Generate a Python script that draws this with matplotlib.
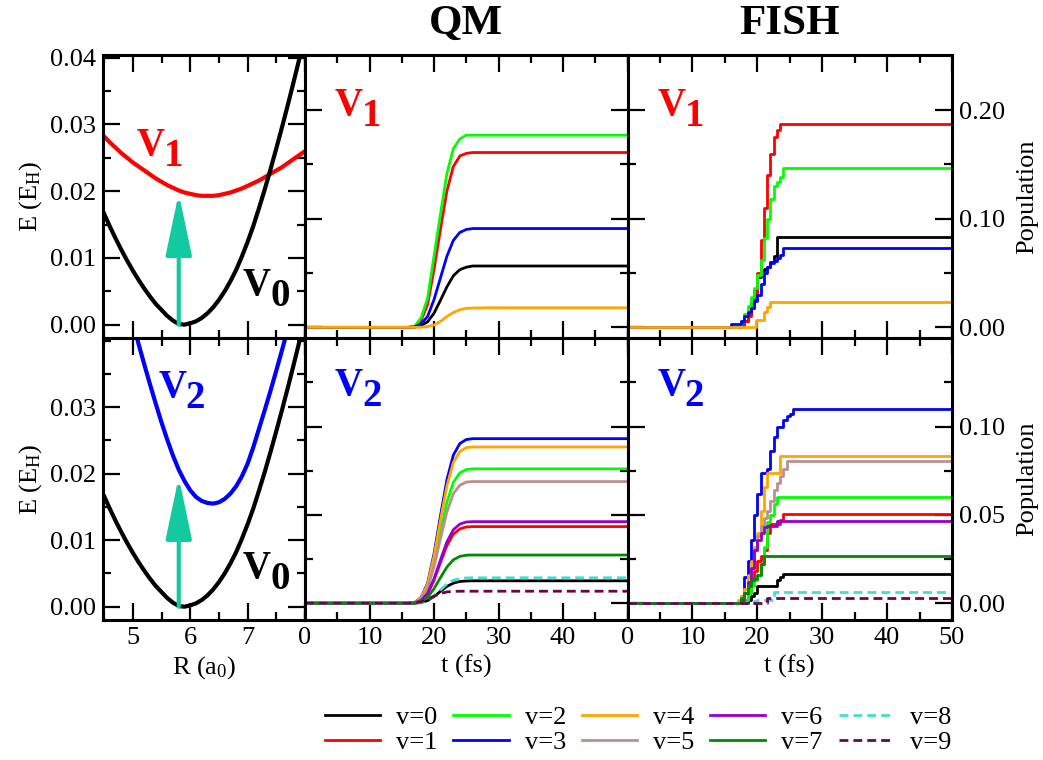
import matplotlib
matplotlib.use('Agg')
import matplotlib.pyplot as plt
from matplotlib.ticker import MultipleLocator, FixedLocator

plt.rcParams['font.family'] = ['Liberation Serif', 'DejaVu Serif']
plt.rcParams['mathtext.default'] = 'regular'

# potential curves (left column)
R = [4.5, 4.6, 4.7, 4.8, 4.9, 5.0, 5.1, 5.2, 5.3, 5.4, 5.5, 5.6, 5.7, 5.8, 5.9, 6.0, 6.1, 6.2,
     6.3, 6.4, 6.5, 6.6, 6.7, 6.8, 6.9, 7.0, 7.1, 7.2, 7.3, 7.4, 7.5, 7.6, 7.7, 7.8, 7.9, 8.0]
V0 = [0.0166, 0.0147, 0.0129, 0.0112, 0.0096, 0.0081, 0.0067, 0.0054, 0.0042, 0.0031, 0.0022, 0.0013,
      0.0006, 0.0001, 0.0000, 0.0002, 0.0005, 0.0010, 0.0017, 0.0026, 0.0037, 0.0050, 0.0065, 0.0082,
      0.0102, 0.0124, 0.0148, 0.0175, 0.0203, 0.0233, 0.0264, 0.0296, 0.0329, 0.0363, 0.0398, 0.0434]
V1 = [0.0282, 0.0273, 0.0265, 0.0257, 0.0250, 0.0243, 0.0237, 0.0231, 0.0225, 0.0219, 0.0214, 0.0209,
      0.0205, 0.0201, 0.0198, 0.0196, 0.0194, 0.0193, 0.0193, 0.0193, 0.0194, 0.0196, 0.0198, 0.0201,
      0.0204, 0.0208, 0.0212, 0.0216, 0.0221, 0.0226, 0.0231, 0.0236, 0.0242, 0.0248, 0.0254, 0.0260]
V2 = [0.0617, 0.0577, 0.0538, 0.0500, 0.0463, 0.0428, 0.0395, 0.0364, 0.0334, 0.0305, 0.0277, 0.0251,
      0.0227, 0.0206, 0.0189, 0.0175, 0.0165, 0.0159, 0.0156, 0.0155, 0.0157, 0.0162, 0.0170, 0.0181,
      0.0196, 0.0215, 0.0240, 0.0268, 0.0296, 0.0325, 0.0355, 0.0386, 0.0418, 0.0450, 0.0482, 0.0515]
R_exc = 5.8
E_exc_top = 0.0197
E_exc_bot = 0.0195

# QM populations
qm_t = [0, 16, 17, 18, 19, 20, 21, 22, 23, 24, 25, 26, 28, 50]
qm_top = {
    0: [0, 0, 0.0002, 0.0017, 0.0051, 0.0130, 0.0249, 0.0373, 0.0475, 0.0531, 0.0554, 0.0565, 0.0565, 0.0565],
    1: [0, 0, 0.0006, 0.0064, 0.0209, 0.0531, 0.0902, 0.1256, 0.1481, 0.1578, 0.1602, 0.161, 0.161, 0.161],
    2: [0, 0, 0.0009, 0.0089, 0.0266, 0.0655, 0.1044, 0.1416, 0.1646, 0.1735, 0.177, 0.177, 0.177, 0.177],
    3: [0, 0, 0.0004, 0.0032, 0.0100, 0.0255, 0.0455, 0.0655, 0.0801, 0.0874, 0.0901, 0.091, 0.091, 0.091],
    4: [0, 0, 0, 0.0002, 0.0007, 0.0022, 0.0054, 0.0099, 0.0137, 0.0162, 0.0175, 0.0178, 0.018, 0.018],
}
qm_bot = {
    0: [0, 0, 0, 0.0004, 0.0015, 0.0038, 0.0067, 0.0095, 0.0114, 0.0123, 0.0126, 0.0127, 0.0127, 0.0127],
    1: [0, 0, 0.0002, 0.0015, 0.0052, 0.0130, 0.0230, 0.0326, 0.0391, 0.0421, 0.0432, 0.0434, 0.0434, 0.0434],
    2: [0, 0, 0.0003, 0.0027, 0.0091, 0.0228, 0.0403, 0.0571, 0.0685, 0.0738, 0.0757, 0.0761, 0.0761, 0.0761],
    3: [0, 0, 0.0004, 0.0033, 0.0112, 0.0280, 0.0494, 0.0699, 0.0839, 0.0904, 0.0927, 0.0932, 0.0932, 0.0932],
    4: [0, 0, 0.0004, 0.0031, 0.0106, 0.0266, 0.0469, 0.0664, 0.0797, 0.0858, 0.0881, 0.0885, 0.0885, 0.0885],
    5: [0, 0, 0.0003, 0.0024, 0.0083, 0.0207, 0.0365, 0.0517, 0.0620, 0.0668, 0.0686, 0.0689, 0.0689, 0.0689],
    6: [0, 0, 0.0002, 0.0016, 0.0055, 0.0139, 0.0245, 0.0347, 0.0416, 0.0448, 0.0460, 0.0462, 0.0462, 0.0462],
    7: [0, 0, 0.0001, 0.0010, 0.0033, 0.0082, 0.0145, 0.0205, 0.0246, 0.0265, 0.0272, 0.0273, 0.0273, 0.0273],
    8: [0, 0, 0.0001, 0.0005, 0.0017, 0.0043, 0.0076, 0.0108, 0.0130, 0.0140, 0.0143, 0.0144, 0.0144, 0.0144],
    9: [0, 0, 0.0001, 0.0008, 0.0022, 0.0040, 0.0055, 0.0064, 0.0067, 0.0068, 0.0068, 0.0068, 0.0068, 0.0068],
}

# FISH populations (t, p) step data
fish_top = {
    0: ([0, 17.5, 18, 18.5, 19, 19.5, 20, 20.5, 21, 21.5, 22, 22.5, 23, 50],
        [0, 0.002, 0.006, 0.012, 0.022, 0.034, 0.046, 0.052, 0.054, 0.056, 0.060, 0.066, 0.083, 0.083]),
    1: ([0, 17.5, 18, 18.5, 19, 19.5, 20, 20.5, 21, 21.5, 22, 22.5, 23, 23.5, 50],
        [0, 0.002, 0.006, 0.010, 0.018, 0.030, 0.050, 0.080, 0.110, 0.140, 0.160, 0.175, 0.182, 0.187, 0.187]),
    2: ([0, 17, 17.5, 18, 18.5, 19, 19.5, 20, 20.5, 21, 21.5, 22, 22.5, 23, 23.5, 24, 50],
        [0, 0.002, 0.006, 0.012, 0.020, 0.028, 0.036, 0.048, 0.062, 0.082, 0.100, 0.118, 0.130, 0.134, 0.138,
         0.147, 0.147]),
    3: ([0, 16, 17.5, 18, 18.5, 19, 19.5, 20, 20.5, 21, 21.5, 22, 22.5, 23, 23.5, 24, 50],
        [0, 0.003, 0.006, 0.010, 0.014, 0.018, 0.024, 0.030, 0.040, 0.050, 0.056, 0.059, 0.061, 0.064, 0.067,
         0.0735, 0.0735]),
    4: ([0, 19.8, 21, 21.5, 22, 50],
        [0, 0.007, 0.014, 0.019, 0.0233, 0.0233]),
}
fish_bot = {
    0: ([0, 18.5, 19, 19.5, 20, 22.5, 23, 23.5, 24, 50],
        [0, 0.002, 0.004, 0.006, 0.0095, 0.0095, 0.013, 0.015, 0.0165, 0.0165]),
    1: ([0, 18, 18.5, 19, 19.5, 20, 20.5, 21, 21.5, 22, 22.5, 23, 23.5, 24, 50],
        [0, 0.002, 0.006, 0.012, 0.018, 0.024, 0.027, 0.030, 0.040, 0.045, 0.045, 0.045, 0.047, 0.0504, 0.0504]),
    2: ([0, 18, 18.5, 19, 19.5, 20, 20.5, 21, 21.5, 22, 22.5, 23, 50],
        [0, 0.002, 0.006, 0.010, 0.013, 0.016, 0.022, 0.032, 0.046, 0.050, 0.056, 0.0602, 0.0602]),
    3: ([0, 17.5, 18, 18.5, 19, 19.5, 20, 20.5, 21, 21.5, 22, 22.5, 23, 23.5, 24, 24.5, 25, 25.5, 50],
        [0, 0.004, 0.015, 0.024, 0.036, 0.050, 0.062, 0.074, 0.074, 0.076, 0.086, 0.094, 0.100, 0.100, 0.104,
         0.106, 0.107, 0.110, 0.110]),
    4: ([0, 17, 17.5, 18, 18.5, 19, 19.5, 20, 20.5, 21, 21.5, 22, 22.5, 23, 23.5, 50],
        [0, 0.002, 0.004, 0.008, 0.016, 0.024, 0.032, 0.040, 0.052, 0.066, 0.074, 0.074, 0.074, 0.074, 0.0835,
         0.0835]),
    5: ([0, 17.5, 18, 18.5, 19, 19.5, 20, 20.5, 21, 21.5, 22, 22.5, 23, 23.5, 24, 24.5, 50],
        [0, 0.002, 0.006, 0.012, 0.020, 0.030, 0.038, 0.044, 0.048, 0.052, 0.058, 0.064, 0.068, 0.072, 0.076,
         0.0803, 0.0803]),
    6: ([0, 17.5, 18, 18.5, 19, 19.5, 20, 20.5, 21, 21.5, 22, 22.5, 23, 50],
        [0, 0.002, 0.006, 0.012, 0.020, 0.030, 0.036, 0.040, 0.043, 0.044, 0.044, 0.044, 0.0468, 0.0468]),
    7: ([0, 17.5, 18, 18.5, 19, 19.5, 20, 20.5, 21, 50],
        [0, 0.003, 0.006, 0.010, 0.013, 0.014, 0.016, 0.022, 0.0267, 0.0267]),
    8: ([0, 19.5, 20, 22.5, 50],
        [0, 0.001, 0.002, 0.0064, 0.0064]),
    9: ([0, 21.5, 50],
        [0, 0.003, 0.003]),
}

colors = ['black', '#ff0000', '#00ff00', '#0000ff', '#ffa500',
          '#bc8f8f', '#9400d3', '#008b00', '#40e0d0', '#670748']
dashed = [8, 9]
arrow_col = '#12c9a0'
fs = 19


def style_axes(ax):
    for s in ax.spines.values():
        s.set_linewidth(2.2)
    ax.tick_params(which='both', direction='in', top=True, right=True, width=1.6, labelsize=fs)
    ax.tick_params(which='major', length=12, pad=5)
    ax.tick_params(which='minor', length=6)


def vlabel(ax, x, y, n, color):
    ax.text(x, y, 'V', transform=ax.transAxes, fontsize=28, fontweight='bold', color=color, va='baseline')
    ax.annotate(n, (x, y), xycoords='axes fraction', xytext=(19.5, -8), textcoords='offset points',
                fontsize=28, fontweight='bold', color=color, va='baseline')


def pop_line(ax, t, p, v, steps=False):
    kw = dict(color=colors[v], lw=2.0, label='v=%d' % v)
    if v in dashed:
        kw['dashes'] = (3.2, 1.8)
    if steps:
        kw['drawstyle'] = 'steps-post'
    return ax.plot(t, p, **kw)[0]


fig = plt.figure(figsize=(10.43, 7.6), dpi=100)
W, H = 1043.0, 760.0
xs = [103, 305, 627.5, 952]
ys = [55, 338, 620]
axes = {}
for r in range(2):
    for c in range(3):
        axes[r, c] = fig.add_axes([xs[c] / W, 1 - ys[r + 1] / H, (xs[c + 1] - xs[c]) / W, (ys[r + 1] - ys[r]) / H])

# left column: potentials
for r, Vx, col, lab, Eexc in [(0, V1, '#ff0000', '1', E_exc_top), (1, V2, '#0000ff', '2', E_exc_bot)]:
    ax = axes[r, 0]
    ax.plot(R, Vx, color=col, lw=3)
    ax.plot(R, V0, color='black', lw=3)
    ax.annotate('', xy=(R_exc, Eexc), xytext=(R_exc, 0),
                arrowprops=dict(arrowstyle='-|>,head_length=38,head_width=8', mutation_scale=1,
                                color=arrow_col, lw=3, shrinkA=0, shrinkB=0))
    ax.set_xlim(4.48, 8.0)
    ax.set_ylim(-0.002, 0.0404)
    ax.xaxis.set_major_locator(FixedLocator([5, 6, 7]))
    ax.xaxis.set_minor_locator(MultipleLocator(0.5))
    ax.yaxis.set_major_locator(FixedLocator([0, 0.01, 0.02, 0.03, 0.04] if r == 0 else [0, 0.01, 0.02, 0.03]))
    ax.yaxis.set_minor_locator(MultipleLocator(0.005))
    ax.yaxis.set_major_formatter(plt.FormatStrFormatter('%.2f'))
    ax.set_ylabel('E (E$_H$)', fontsize=fs)
    style_axes(ax)
    if r == 0:
        vlabel(ax, 0.167, 0.647, '1', col)
        vlabel(ax, 0.693, 0.152, '0', 'black')
        ax.tick_params(labelbottom=False)
    else:
        vlabel(ax, 0.274, 0.792, '2', col)
        vlabel(ax, 0.693, 0.148, '0', 'black')
        ax.set_xlabel('R (a$_0$)', fontsize=fs)

# middle and right: populations
handles = []
for r in range(2):
    qm = qm_top if r == 0 else qm_bot
    fish = fish_top if r == 0 else fish_bot
    for v in sorted(qm):
        h = pop_line(axes[r, 1], qm_t, qm[v], v)
        if r == 1:
            handles.append(h)
    for v in sorted(fish):
        pop_line(axes[r, 2], fish[v][0], fish[v][1], v, steps=True)
    for c in (1, 2):
        ax = axes[r, c]
        ax.set_xlim(0, 50)
        ax.xaxis.set_major_locator(FixedLocator([0, 10, 20, 30, 40] if c == 1 else [0, 10, 20, 30, 40, 50]))
        ax.xaxis.set_minor_locator(MultipleLocator(5))
        if r == 0:
            ax.set_ylim(-0.0098, 0.2508)
            ax.yaxis.set_major_locator(FixedLocator([0, 0.1, 0.2]))
            ax.yaxis.set_minor_locator(FixedLocator([0.05, 0.15]))
        else:
            ax.set_ylim(-0.0095, 0.1502)
            ax.yaxis.set_major_locator(FixedLocator([0, 0.05, 0.10]))
            ax.yaxis.set_minor_locator(FixedLocator([0.025, 0.075, 0.125]))
        ax.yaxis.set_major_formatter(plt.FormatStrFormatter('%.2f'))
        style_axes(ax)
        ax.tick_params(labelleft=False)
        if c == 2:
            ax.tick_params(labelright=True)
            ax.yaxis.set_label_position('right')
            ax.set_ylabel('Population', fontsize=fs, labelpad=8)
        if r == 0:
            ax.tick_params(labelbottom=False)
            vlabel(ax, 0.093, 0.788, '1', '#ff0000')
        else:
            ax.set_xlabel('t (fs)', fontsize=fs)
            vlabel(ax, 0.093, 0.798, '2', '#0000ff')

axes[0, 1].set_title('QM', fontsize=31, fontweight='bold', pad=15)
axes[0, 2].set_title('FISH', fontsize=31, fontweight='bold', pad=15)

fig.legend(handles, [h.get_label() for h in handles], ncol=5, loc='center',
           bbox_to_anchor=(638 / W, 1 - 730 / H), frameon=False, fontsize=fs,
           handlelength=2.1, handletextpad=0.6, columnspacing=0.6, labelspacing=0.05)

plt.savefig('out.png', dpi=100)
